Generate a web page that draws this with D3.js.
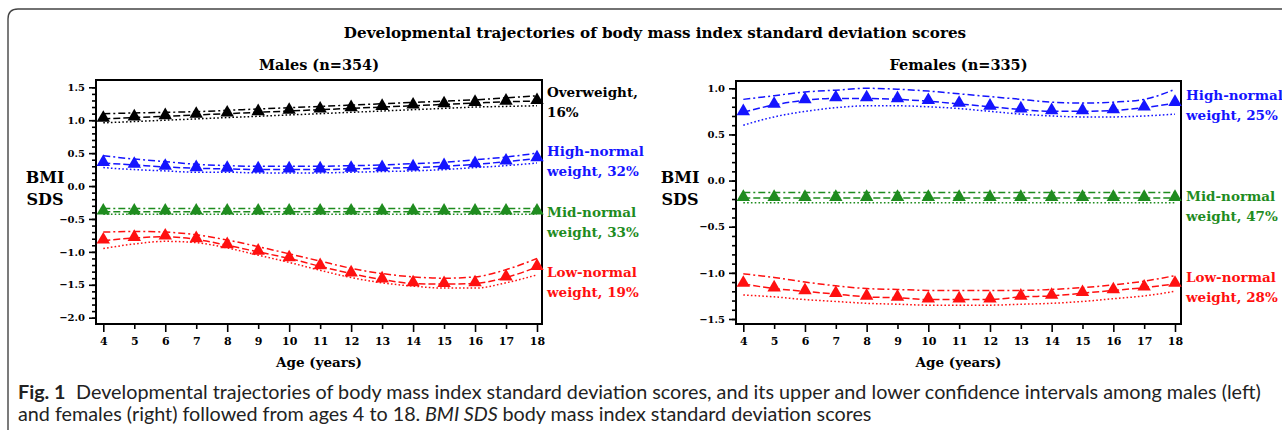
<!DOCTYPE html>
<html>
<head>
<meta charset="utf-8">
<script src="https://cdn.jsdelivr.net/npm/d3@7"></script>
<style>
  body { margin: 0; background: #fff; }
  svg text { font-family: "DejaVu Serif", serif; font-weight: bold; }
  svg text.cap { font-family: Lato, sans-serif; font-weight: normal; }
</style>
</head>
<body>
<div id="chart"></div>
<script>
// ages on the x axis
var ages = [4, 5, 6, 7, 8, 9, 10, 11, 12, 13, 14, 15, 16, 17, 18];

// males: mean, upper CI, lower CI
var mOver = [1.02, 1.04, 1.06, 1.08, 1.10, 1.12, 1.14, 1.16, 1.18, 1.20, 1.22, 1.24, 1.26, 1.28, 1.29];
var mOverUp = [1.10, 1.11, 1.12, 1.13, 1.15, 1.17, 1.19, 1.21, 1.23, 1.25, 1.27, 1.29, 1.31, 1.34, 1.37];
var mOverLo = [0.96, 0.98, 1.00, 1.02, 1.04, 1.06, 1.08, 1.10, 1.12, 1.14, 1.16, 1.18, 1.20, 1.21, 1.22];
var mHigh = [0.35, 0.32, 0.29, 0.27, 0.26, 0.25, 0.25, 0.25, 0.26, 0.27, 0.28, 0.30, 0.33, 0.37, 0.42];
var mHighUp = [0.46, 0.41, 0.37, 0.33, 0.31, 0.30, 0.30, 0.30, 0.31, 0.32, 0.34, 0.36, 0.40, 0.44, 0.50];
var mHighLo = [0.28, 0.25, 0.23, 0.21, 0.21, 0.20, 0.20, 0.20, 0.21, 0.22, 0.23, 0.25, 0.28, 0.31, 0.35];
var mMid = [-0.39, -0.39, -0.39, -0.39, -0.39, -0.39, -0.39, -0.39, -0.39, -0.39, -0.39, -0.39, -0.39, -0.39, -0.39];
var mMidUp = [-0.34, -0.34, -0.34, -0.34, -0.34, -0.34, -0.34, -0.34, -0.34, -0.34, -0.34, -0.34, -0.34, -0.34, -0.34];
var mMidLo = [-0.43, -0.43, -0.43, -0.43, -0.43, -0.43, -0.43, -0.43, -0.43, -0.43, -0.43, -0.43, -0.43, -0.43, -0.43];
var mLow = [-0.83, -0.79, -0.77, -0.81, -0.90, -1.00, -1.10, -1.22, -1.33, -1.42, -1.48, -1.49, -1.48, -1.39, -1.23];
var mLowUp = [-0.70, -0.69, -0.70, -0.74, -0.82, -0.92, -1.03, -1.14, -1.25, -1.33, -1.38, -1.40, -1.38, -1.27, -1.10];
var mLowLo = [-0.95, -0.88, -0.84, -0.86, -0.94, -1.05, -1.16, -1.28, -1.39, -1.47, -1.52, -1.55, -1.55, -1.47, -1.35];

// females: mean, upper CI, lower CI
var fHigh = [0.74, 0.82, 0.87, 0.89, 0.89, 0.88, 0.86, 0.83, 0.80, 0.77, 0.75, 0.75, 0.76, 0.79, 0.84];
var fHighUp = [0.88, 0.92, 0.96, 0.98, 1.00, 0.99, 0.97, 0.94, 0.91, 0.88, 0.85, 0.84, 0.85, 0.88, 0.99];
var fHighLo = [0.60, 0.69, 0.75, 0.79, 0.81, 0.81, 0.80, 0.78, 0.75, 0.72, 0.70, 0.69, 0.69, 0.70, 0.72];
var fMid = [-0.19, -0.19, -0.19, -0.19, -0.19, -0.19, -0.19, -0.19, -0.19, -0.19, -0.19, -0.19, -0.19, -0.19, -0.19];
var fMidUp = [-0.13, -0.13, -0.13, -0.13, -0.13, -0.13, -0.13, -0.13, -0.13, -0.13, -0.13, -0.13, -0.13, -0.13, -0.13];
var fMidLo = [-0.24, -0.24, -0.24, -0.24, -0.24, -0.24, -0.24, -0.24, -0.24, -0.24, -0.24, -0.24, -0.24, -0.24, -0.24];
var fLow = [-1.12, -1.17, -1.20, -1.23, -1.26, -1.27, -1.29, -1.29, -1.29, -1.26, -1.25, -1.22, -1.19, -1.16, -1.12];
var fLowUp = [-1.01, -1.05, -1.10, -1.14, -1.17, -1.18, -1.19, -1.19, -1.19, -1.19, -1.18, -1.16, -1.13, -1.09, -1.03];
var fLowLo = [-1.24, -1.26, -1.29, -1.31, -1.33, -1.34, -1.35, -1.35, -1.35, -1.34, -1.33, -1.31, -1.28, -1.25, -1.20];

// class labels at the right of each panel
var mLabels = [["Overweight,", "16%"], ["High-normal", "weight, 32%"], ["Mid-normal", "weight, 33%"], ["Low-normal", "weight, 19%"]];
var fLabels = [["High-normal", "weight, 25%"], ["Mid-normal", "weight, 47%"], ["Low-normal", "weight, 28%"]];

var black = "#000", blue = "#1414ff", green = "#1f8c1f", red = "#ff1010";

var W = 1282, H = 436;
var svg = d3.select("#chart").append("svg")
    .attr("width", W)
    .attr("height", H);

// figure frame
svg.append("path")
    .attr("d", "M1290,9 L18,9 Q8,9 8,19 L8,430")
    .attr("fill", "none")
    .attr("stroke", "#444")
    .attr("stroke-width", 1.4);

svg.append("text")
    .attr("x", 655).attr("y", 38)
    .attr("text-anchor", "middle")
    .attr("font-size", 15.2)
    .text("Developmental trajectories of body mass index standard deviation scores");

function panel(opt) {
    var x = d3.scaleLinear().domain([4, 18]).range(opt.xr);
    var y = d3.scaleLinear().domain(opt.yd).range(opt.yr);
    var g = svg.append("g");

    // y axis: major labelled ticks + minor ticks every 0.1
    var yMin = d3.range(Math.round(opt.yd[0] * 10), Math.round(opt.yd[1] * 10) + 1).map(function (v) { return v / 10; });
    g.append("g")
        .attr("transform", "translate(" + opt.frame[0] + ",0)")
        .call(d3.axisLeft(y).tickValues(yMin).tickSize(4).tickFormat(""))
        .call(function (a) { a.select(".domain").remove(); a.selectAll("line").attr("stroke-width", 1.6); });
    var yMaj = yMin.filter(function (v) { return Math.abs(v * 2 - Math.round(v * 2)) < 1e-6; });
    g.append("g")
        .attr("transform", "translate(" + opt.frame[0] + ",0)")
        .call(d3.axisLeft(y).tickValues(yMaj).tickSize(7).tickPadding(4).tickFormat(d3.format(".1f")))
        .call(function (a) {
            a.select(".domain").remove();
            a.selectAll("line").attr("stroke-width", 1.6);
            a.selectAll("text").attr("font-size", 10).attr("font-family", "DejaVu Serif").attr("font-weight", "bold");
        });

    // x axis
    g.append("g")
        .attr("transform", "translate(0," + opt.frame[3] + ")")
        .call(d3.axisBottom(x).tickValues(ages).tickSize(0).tickPadding(13).tickFormat(d3.format("d")))
        .call(function (a) {
            a.select(".domain").remove();
            a.selectAll("text").attr("font-size", 11).attr("font-family", "DejaVu Serif").attr("font-weight", "bold");
            a.selectAll(".tick").append("line")
                .attr("y2", function (d) { return d % 2 === 0 ? 8 : 5; })
                .attr("stroke", "#000").attr("stroke-width", 1.6);
        });

    // plot box
    g.append("rect")
        .attr("x", opt.frame[0]).attr("y", opt.frame[1])
        .attr("width", opt.frame[2] - opt.frame[0])
        .attr("height", opt.frame[3] - opt.frame[1])
        .attr("fill", "none").attr("stroke", "#000").attr("stroke-width", 2);

    var line = d3.line()
        .x(function (d) { return x(d[0]); })
        .y(function (d) { return y(d[1]); })
        .curve(d3.curveMonotoneX);

    opt.series.forEach(function (s) {
        var dashes = [["7,3,2,3", s.up], ["7,3", s.mean], ["1.6,2.2", s.lo]];
        dashes.forEach(function (p) {
            g.append("path")
                .datum(d3.zip(ages, p[1]))
                .attr("d", line)
                .attr("fill", "none")
                .attr("stroke", s.color)
                .attr("stroke-width", 1.5)
                .attr("stroke-dasharray", p[0]);
        });
        g.selectAll(null)
            .data(d3.zip(ages, s.mean))
            .enter().append("path")
            .attr("d", d3.symbol(d3.symbolTriangle, 78))
            .attr("transform", function (d) { return "translate(" + x(d[0]) + "," + (y(d[1]) - 1) + ")"; })
            .attr("fill", s.color);
    });

    // panel title, axis titles
    var cx = (opt.frame[0] + opt.frame[2]) / 2;
    g.append("text").attr("x", cx).attr("y", 70).attr("text-anchor", "middle")
        .attr("font-size", 14.5).text(opt.title);
    g.append("text").attr("x", cx).attr("y", 367).attr("text-anchor", "middle")
        .attr("font-size", 13.5).text("Age (years)");
    g.append("text").attr("x", opt.ylx).attr("y", 183).attr("text-anchor", "middle")
        .attr("font-size", 16).text("BMI");
    g.append("text").attr("x", opt.ylx).attr("y", 205).attr("text-anchor", "middle")
        .attr("font-size", 16).text("SDS");

    // class labels
    opt.labels.forEach(function (l, i) {
        var t = g.append("text").attr("x", opt.frame[2] + 5).attr("font-size", 13.5)
            .attr("fill", opt.series[i].color);
        t.append("tspan").attr("x", opt.frame[2] + 5).attr("y", opt.labelY[i]).text(l[0]);
        t.append("tspan").attr("x", opt.frame[2] + 5).attr("y", opt.labelY[i] + 20).text(l[1]);
    });
}

panel({
    title: "Males (n=354)",
    xr: [103.3, 537],
    yd: [-2, 1.5], yr: [317.7, 87.3],
    frame: [96, 80, 542, 324],
    ylx: 45,
    labels: mLabels,
    labelY: [97, 156, 217, 277],
    series: [
        { color: black, mean: mOver, up: mOverUp, lo: mOverLo },
        { color: blue, mean: mHigh, up: mHighUp, lo: mHighLo },
        { color: green, mean: mMid, up: mMidUp, lo: mMidLo },
        { color: red, mean: mLow, up: mLowUp, lo: mLowLo }
    ]
});

panel({
    title: "Females (n=335)",
    xr: [743.3, 1175],
    yd: [-1.5, 1.0], yr: [319, 88.3],
    frame: [736, 81, 1181, 324],
    ylx: 680,
    labels: fLabels,
    labelY: [100, 201, 282],
    series: [
        { color: blue, mean: fHigh, up: fHighUp, lo: fHighLo },
        { color: green, mean: fMid, up: fMidUp, lo: fMidLo },
        { color: red, mean: fLow, up: fLowUp, lo: fLowLo }
    ]
});

// caption: pieces laid out one after another as separate texts
var capLines = [
    { y: 399, parts: [
        { t: "Fig. 1", w: "bold", s: "normal", gap: 9 },
        { t: "Developmental trajectories of body mass index standard deviation scores, and its upper and lower confidence intervals among males (left)", w: "normal", s: "normal", gap: 0 }
    ] },
    { y: 421, parts: [
        { t: "and females (right) followed from ages 4 to 18.", w: "normal", s: "normal", gap: 4 },
        { t: "BMI SDS", w: "normal", s: "italic", gap: 4 },
        { t: "body mass index standard deviation scores", w: "normal", s: "normal", gap: 0 }
    ] }
];

function layCaption(fs) {
    svg.selectAll("text.cap").remove();
    var widths = [];
    capLines.forEach(function (ln) {
        var cx = 18;
        ln.parts.forEach(function (p) {
            var t = svg.append("text").attr("class", "cap")
                .attr("x", cx).attr("y", ln.y)
                .attr("font-size", fs).attr("fill", "#222")
                .style("font-weight", p.w).style("font-style", p.s)
                .text(p.t);
            cx += t.node().getComputedTextLength() + p.gap * fs / 17;
        });
        widths.push(cx - 18);
    });
    return widths;
}
var wd = layCaption(17);
layCaption(17 * 1244 / wd[0]);
</script>
</body>
</html>
